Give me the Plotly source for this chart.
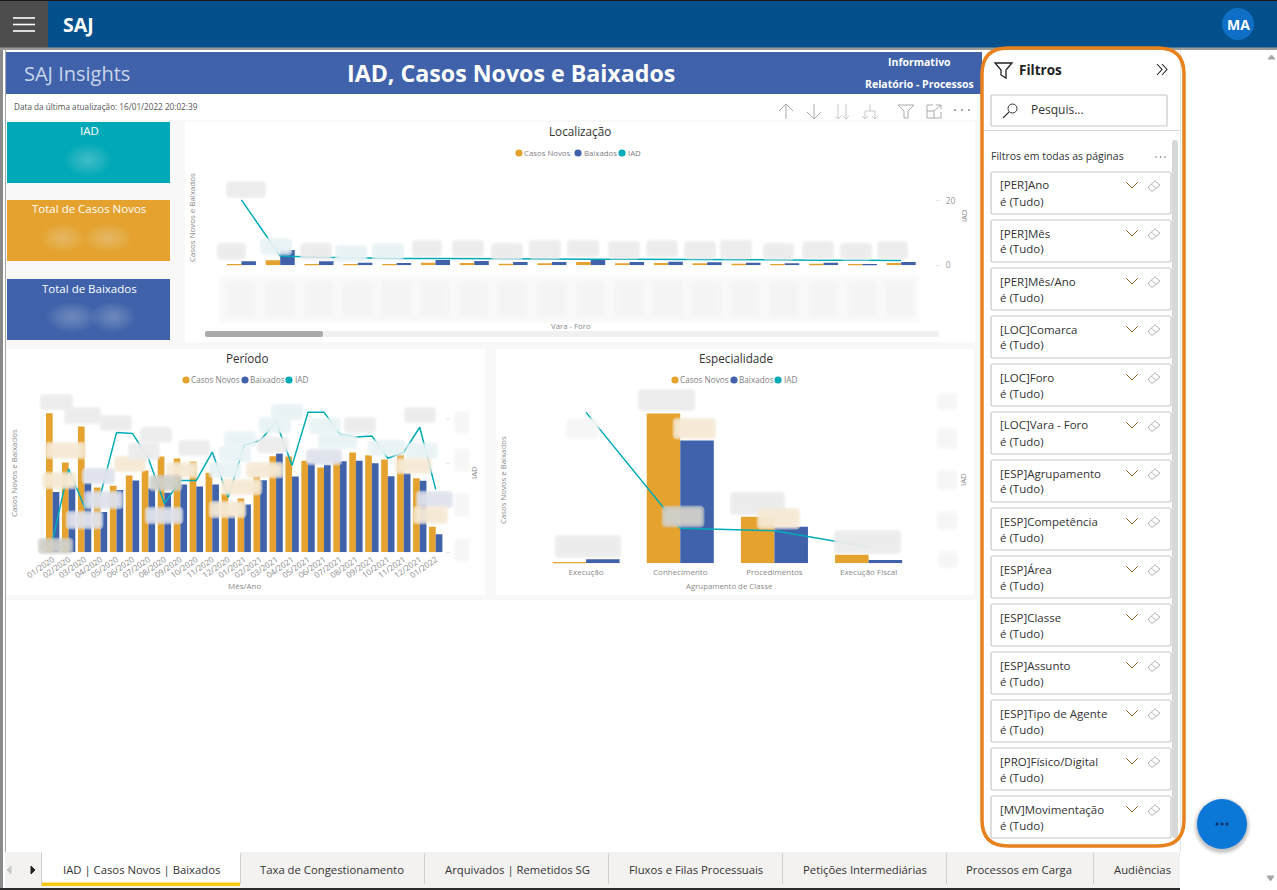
import plotly.graph_objects as go

W, H = 1277, 890
FONT = "Open Sans"
ORANGE = "#E5A22F"
BLUE = "#3F62AB"
TEAL = "#00ABB8"

# dados lidos do painel (escala dos eixos ocultos = borrada no original)
meses = ["01/2020", "02/2020", "03/2020", "04/2020", "05/2020", "06/2020", "07/2020", "08/2020", "09/2020",
         "10/2020", "11/2020", "12/2020", "01/2021", "02/2021", "03/2021", "04/2021", "05/2021", "06/2021",
         "07/2021", "08/2021", "09/2021", "10/2021", "11/2021", "12/2021", "01/2022"]
per_novos = [418, 270, 378, 195, 200, 231, 246, 288, 282, 273, 239, 177, 162, 229, 289, 288, 275, 255, 272, 300,
             292, 279, 294, 223, 77]
per_baixados = [181, 202, 209, 121, 187, 216, 192, 179, 204, 198, 204, 112, 144, 217, 297, 228, 270, 263, 274, 275,
                268, 229, 238, 215, 54]
per_iad = [14, 94, 51, 65, 135, 134, 106, 55, 81, 81, 113, 62, 121, 126, 147, 98, 158, 158, 133, 130, 131, 106,
           113, 141, 71]

classes = ["Execução", "Conhecimento", "Procedimentos", "Execução Fiscal"]
esp_novos = [4, 450, 140, 26]
esp_baixados = [12, 369, 110, 10]
esp_iad = [185, 43, 40, 20]

varas = ["Vara %02d" % i for i in range(1, 19)]
loc_novos = [4, 15, 4, 4, 4, 8, 7, 5, 6, 10, 6, 7, 6, 5, 4, 5, 4, 7]
loc_baixados = [12, 46, 12, 8, 7, 16, 13, 10, 10, 16, 10, 11, 9, 8, 6, 8, 4, 10]
loc_iad = [20.3, 2.9, 2.5, 2.2, 2.1, 2.1, 2.0, 2.0, 1.9, 1.9, 1.9, 1.8, 1.8, 1.7, 1.7, 1.6, 1.6, 1.5]

filtros = ["[PER]Ano", "[PER]Mês", "[PER]Mês/Ano", "[LOC]Comarca", "[LOC]Foro", "[LOC]Vara - Foro",
           "[ESP]Agrupamento", "[ESP]Competência", "[ESP]Área", "[ESP]Classe", "[ESP]Assunto",
           "[ESP]Tipo de Agente", "[PRO]Físico/Digital", "[MV]Movimentação"]
abas = ["IAD | Casos Novos | Baixados", "Taxa de Congestionamento", "Arquivados | Remetidos SG",
        "Fluxos e Filas Processuais", "Petições Intermediárias", "Processos em Carga", "Audiências"]
aba_centros = [141, 332, 517, 696, 865, 1019, 1142]
aba_bordas = [41, 240, 424, 608, 782, 946, 1093]


def X(p):
    return p / W


def Y(p):
    return 1 - p / H


shapes = []
notes = []


def rect(x0, y0, x1, y1, fill, line=None, lw=1, layer="below"):
    shapes.append(dict(type="rect", xref="paper", yref="paper", x0=X(x0), x1=X(x1), y0=Y(y0), y1=Y(y1),
                       fillcolor=fill, line=dict(color=line or "rgba(0,0,0,0)", width=lw if line else 0),
                       layer=layer))


def rounded(x0, y0, x1, y1, r, fill, line=None, lw=1, layer="above"):
    p = (f"M {X(x0 + r)} {Y(y0)} L {X(x1 - r)} {Y(y0)} Q {X(x1)} {Y(y0)} {X(x1)} {Y(y0 + r)} "
         f"L {X(x1)} {Y(y1 - r)} Q {X(x1)} {Y(y1)} {X(x1 - r)} {Y(y1)} L {X(x0 + r)} {Y(y1)} "
         f"Q {X(x0)} {Y(y1)} {X(x0)} {Y(y1 - r)} L {X(x0)} {Y(y0 + r)} Q {X(x0)} {Y(y0)} {X(x0 + r)} {Y(y0)} Z")
    shapes.append(dict(type="path", xref="paper", yref="paper", path=p, fillcolor=fill,
                       line=dict(color=line or "rgba(0,0,0,0)", width=lw if line else 0), layer=layer))


def circle(cx, cy, r, fill, ry=None, layer="above"):
    ry = ry or r
    shapes.append(dict(type="circle", xref="paper", yref="paper", x0=X(cx - r), x1=X(cx + r), y0=Y(cy + ry),
                       y1=Y(cy - ry), fillcolor=fill, line=dict(width=0), layer=layer))


def stroke(points, color, lw=1, close=False, fill=None):
    p = "M " + " L ".join(f"{X(a)} {Y(b)}" for a, b in points) + (" Z" if close else "")
    shapes.append(dict(type="path", xref="paper", yref="paper", path=p, line=dict(color=color, width=lw),
                       fillcolor=fill or "rgba(0,0,0,0)", layer="above"))


def text(x, y, s, size=12, color="#333333", anchor="left", bold=False, angle=0, font=FONT):
    notes.append(dict(xref="paper", yref="paper", x=X(x), y=Y(y), text=f"<b>{s}</b>" if bold else s,
                      showarrow=False, xanchor=anchor, yanchor="middle", textangle=angle,
                      font=dict(family=font, size=size, color=color), borderpad=0, borderwidth=0))


def blur(x0, y0, x1, y1, rgb, a=0.96):
    # rótulo borrado: camadas arredondadas sobrepostas para suavizar a borda
    passo = 1 - (1 - a) ** 0.25
    for d, r in ((2.5, 5), (1.0, 4), (-0.5, 3), (-2, 3)):
        rounded(x0 - d, y0 - d, x1 + d, y1 + d, r, f"rgba({rgb},{passo:.3f})")


def glow(cx, cy, rx, ry, alpha):
    for k in (1.0, 0.88, 0.76, 0.64, 0.52, 0.4, 0.28, 0.16):
        circle(cx, cy, rx * k, f"rgba(255,255,255,{alpha})", ry=ry * k)


# ---------- fundo geral ----------
rect(0, 0, W, H, "#FFFFFF")
rect(5, 94, 982, 600, "#F8F8F8")
rect(5, 94, 982, 120, "#FFFFFF")
rect(0, 600, 982, 852, "#FFFFFF")
rect(0, 0, 1277, 48, "#04508C")
rect(0, 0, 1277, 1, "#1A1A1A")
rect(0, 1, 48, 48, "#4D4D4D")
rect(0, 47.5, 1277, 50, "#9A9A9A")
rect(1180, 50, 1277, 890, "#FFFFFF")
rect(5, 52, 982, 94, BLUE)
rect(0, 50, 3, 890, "#8A8A8A")
rect(5, 50, 6, 890, "#A8A8A8")
for yy in (18, 24.5, 31):
    rect(13, yy - 0.8, 35, yy + 0.8, "#FFFFFF")
text(63, 24.5, "SAJ", 19.5, "#FFFFFF", bold=True)
circle(1238, 24, 16, "#0F6FC6", layer="below")
text(1238, 24.5, "MA", 14, "#FFFFFF", "center", bold=True)

# ---------- faixa de título ----------
text(24, 73, "SAJ Insights", 20, "#CBD5E8")
text(511, 72.5, "IAD, Casos Novos e Baixados", 23.2, "#FFFFFF", "center", bold=True)
text(920, 62, "Informativo", 10.5, "#FFFFFF", "center", bold=True)
text(920, 84, "Relatório - Processos", 10.5, "#FFFFFF", "center", bold=True)
text(14, 106, "Data da última atualização: 16/01/2022 20:02:39", 8.2, "#555555")

# ---------- barra de ícones ----------
ICO = "#ABABAB"
for cx, head in ((786, 1), (814, -1)):
    stroke([(cx, 104), (cx, 119)], ICO)
    yh = 104 if head == 1 else 119
    stroke([(cx - 7, yh + 7 * head), (cx, yh), (cx + 7, yh + 7 * head)], ICO)
for cx in (838, 846):
    stroke([(cx, 104), (cx, 119)], "#C9C9C9")
    stroke([(cx - 3, 116), (cx, 119), (cx + 3, 116)], "#C9C9C9")
stroke([(870, 104), (870, 111)], "#C9C9C9")
stroke([(865, 111), (875, 111)], "#C9C9C9")
for cx in (865, 875):
    stroke([(cx, 111), (cx, 119)], "#C9C9C9")
    stroke([(cx - 3, 116), (cx, 119), (cx + 3, 116)], "#C9C9C9")
stroke([(898, 105), (914, 105), (908, 111), (908, 118), (904, 118), (904, 111)], ICO, close=True)
stroke([(933, 105), (927, 105), (927, 118), (941, 118), (941, 112)], ICO)
stroke([(927, 111), (934, 111), (934, 118)], ICO)
stroke([(934, 111), (941, 105)], ICO)
stroke([(936, 105), (941, 105), (941, 109)], ICO)
for cx in (955, 962, 969):
    circle(cx, 110, 1, "#8A8A8A")

# ---------- cartões ----------
rect(7, 122, 170, 183, "#00A9B7")
rect(7, 200, 170, 261, ORANGE)
rect(7, 279, 170, 340, BLUE)
text(89, 131, "IAD", 11.5, "#FFFFFF", "center")
text(89, 209, "Total de Casos Novos", 11.5, "#FFFFFF", "center")
text(89, 288, "Total de Baixados", 11.5, "#FFFFFF", "center")
glow(88, 160, 22, 16, 0.035)
glow(63, 238, 22, 14, 0.035)
glow(108, 238, 24, 14, 0.035)
glow(72, 317, 25, 15, 0.035)
glow(113, 317, 22, 15, 0.035)

# ---------- painéis dos gráficos ----------
rect(185, 122, 975, 342, "#FFFFFF")
rect(7, 349, 485, 595, "#FFFFFF")
rect(496, 349, 974, 595, "#FFFFFF")


def legenda(ponto_x, texto_x, y, size):
    nomes = ["Casos Novos", "Baixados", "IAD"]
    for px, tx, nome, cor in zip(ponto_x, texto_x, nomes, (ORANGE, BLUE, TEAL)):
        circle(px, y, 3.6, cor)
        text(tx, y, nome, size, "#7F7F7F")


CINZA = "#8A8A8A"
text(580, 131, "Localização", 11.7, "#333333", "center")
legenda((519, 578, 622), (524, 583.5, 627.5), 153, 7.8)
text(192, 218, "Casos Novos e Baixados", 7.9, CINZA, "center", angle=-90)
text(964, 216, "IAD", 7.5, CINZA, "center", angle=-90)
text(571, 326, "Vara - Foro", 7.8, CINZA, "center")
rounded(205, 331, 939, 337, 2, "#F0F0F0", layer="below")
rounded(205, 331, 323, 337, 2, "#ABABAB", layer="below")

text(247, 358, "Período", 11.7, "#333333", "center")
legenda((186, 245, 289), (191, 250, 294.5), 380, 8.2)
text(14, 473, "Casos Novos e Baixados", 7.8, CINZA, "center", angle=-90)
text(474, 473, "IAD", 7.8, CINZA, "center", angle=-90)
text(244, 585, "Mês/Ano", 8, CINZA, "center")

text(736, 358, "Especialidade", 11.7, "#333333", "center")
legenda((675, 734, 778), (680, 739, 783.5), 380, 8.2)
text(503, 480, "Casos Novos e Baixados", 7.8, CINZA, "center", angle=-90)
text(963, 480, "IAD", 7.8, CINZA, "center", angle=-90)
text(729, 586, "Agrupamento de Classe", 7.8, CINZA, "center")

# rótulos borrados: (x0, y0, x1, y1, tom) em pixels da tela
G = "236,236,236"
C = "246,234,214"
T = "232,243,244"
A = "222,226,236"
D = "208,208,202"
P = "246,246,246"
rotulos_periodo = [
    (42, 396, 71, 408, G), (66, 409, 99, 422, G), (102, 417, 130, 429, G), (142, 429, 170, 441, G),
    (47, 444, 84, 457, C), (116, 458, 144, 470, C), (130, 445, 158, 458, G), (180, 442, 208, 454, G),
    (273, 406, 301, 418, T), (261, 419, 289, 431, T), (311, 420, 339, 432, T), (346, 419, 374, 431, G),
    (406, 409, 434, 421, G), (226, 433, 254, 445, T), (221, 448, 249, 460, T), (259, 439, 287, 451, G),
    (320, 435, 355, 447, T), (370, 442, 403, 454, T), (408, 445, 436, 457, T), (44, 474, 75, 487, C),
    (84, 470, 113, 482, A), (168, 464, 196, 476, C), (211, 464, 239, 476, T), (248, 464, 282, 476, C),
    (308, 451, 340, 463, A), (397, 460, 430, 472, C), (151, 477, 180, 489, D), (223, 481, 260, 493, C),
    (86, 493, 121, 507, A), (418, 493, 451, 506, A), (415, 508, 446, 522, C), (68, 513, 101, 527, A),
    (147, 509, 181, 522, A), (211, 503, 244, 516, C), (40, 540, 71, 552, D),
]
rotulos_esp = [
    (640, 391, 693, 409, G), (568, 420, 597, 437, P), (675, 420, 714, 437, C), (557, 537, 619, 556, G),
    (732, 494, 783, 513, G), (759, 510, 798, 527, C), (664, 508, 702, 525, D), (836, 532, 899, 552, G),
    (939, 395, 956, 408, P), (939, 430, 956, 447, P), (939, 472, 956, 488, P), (939, 513, 956, 528, P),
    (940, 553, 956, 566, P),
]
rotulos_loc = [
    (219, 245, 244, 258, G), (228, 183, 264, 196, G), (262, 240, 290, 253, T), (302, 245, 330, 258, G),
    (337, 247, 365, 260, T), (374, 245, 402, 258, T), (414, 242, 440, 255, G), (454, 242, 482, 255, G),
    (493, 245, 521, 258, G), (531, 242, 559, 257, G), (569, 242, 597, 255, G), (610, 243, 638, 257, G),
    (648, 242, 676, 255, G), (686, 243, 714, 257, G), (722, 242, 750, 257, G), (765, 245, 792, 258, G),
    (804, 243, 832, 257, G), (842, 245, 870, 258, G), (879, 243, 906, 257, G),
]
for r in rotulos_periodo + rotulos_esp + rotulos_loc:
    blur(*r)
for y0, y1 in ((413, 432), (450, 470), (495, 515), (540, 560)):
    blur(456, y0, 468, y1, P)
# nomes das varas borrados: nuvem de fundo e uma mancha por categoria
blur(220, 276, 918, 322, "248,248,248", 0.8)
for i in range(18):
    cx = 241 + 38.8 * i
    blur(cx - 13, 283, cx + 13, 316, "241,241,241", 0.65)

# ---------- painel de filtros ----------
rect(983, 50, 1180, 850, "#FFFFFF")
rect(1180, 50, 1181, 852, "#E3E3E3")
stroke([(995, 63), (1012, 63), (1006, 70), (1006, 78), (1001, 75), (1001, 70)], "#222222", 1.3, close=True)
text(1019, 69.5, "Filtros", 13.5, "#222222", bold=True)
stroke([(1157, 64), (1162, 69.5), (1157, 75)], "#222222", 1.1)
stroke([(1162, 64), (1167, 69.5), (1162, 75)], "#222222", 1.1)
rounded(991, 95, 1167, 126, 1, "#FFFFFF", "#C8C8C8", 1.2)
shapes.append(dict(type="circle", xref="paper", yref="paper", x0=X(1008), x1=X(1017), y0=Y(113), y1=Y(104),
                   line=dict(color="#333333", width=1), layer="above"))
stroke([(1009, 112), (1003, 118)], "#333333", 1.1)
text(1031, 110, "Pesquis...", 12, "#333333")
rect(983, 130, 1180, 131, "#D8D8D8")
rounded(1172, 140, 1178, 838, 3, "#D8D8D8", layer="below")
text(991, 156, "Filtros em todas as páginas", 10.5, "#333333")
for cx in (1156, 1160.5, 1165):
    circle(cx, 157, 0.7, "#555555")
for i, nome in enumerate(filtros):
    top = 172 + 48 * i
    rounded(991, top, 1171, top + 42, 2, "#FFFFFF", "#C8C8C8", 1.2)
    text(1000, top + 13, nome, 11.5, "#333333")
    text(1000, top + 29, "é (Tudo)", 11.5, "#333333")
    stroke([(1126, top + 10), (1132, top + 16), (1138, top + 10)], "#8A6A2A", 1)
    stroke([(1148, top + 15), (1155, top + 9), (1160, top + 13), (1153, top + 19), (1151, top + 19)], "#B5B5B5", 1,
           close=True)
    stroke([(1151, top + 12), (1156, top + 16)], "#B5B5B5", 1)

# contorno laranja do painel
rounded(982, 48, 1184, 846, 26, "rgba(0,0,0,0)", "#E7821E", 3.5)

# barra de rolagem da página
stroke([(1268, 59), (1271.5, 55), (1275, 59)], "#A6A6A6", 1, close=True, fill="#A6A6A6")
stroke([(1267, 876), (1270.5, 881), (1274, 876)], "#A6A6A6", 1, close=True, fill="#A6A6A6")

# botão flutuante
for r, a in ((29, 0.05), (27.5, 0.07), (26, 0.1)):
    circle(1222, 826, r, f"rgba(0,0,0,{a})")
circle(1222, 824, 25, "#0B78D7")
for cx in (1217, 1222, 1227):
    circle(cx, 824, 1.5, "#0A2E5C")

# ---------- abas ----------
rect(5, 852, 1180, 890, "#F3F2F1")
rect(41, 852, 240, 886, "#FFFFFF")
rect(41, 882.5, 240, 886, "#F2C811")
for b in aba_bordas[1:]:
    rect(b, 853, b + 1, 884, "#D2D0CE")
rect(41, 852, 42, 886, "#D2D0CE")
stroke([(11, 866), (7, 870), (11, 874)], "#C8C8C8", 1, close=True, fill="#C8C8C8")
stroke([(31, 866), (35, 870), (31, 874)], "#222222", 1, close=True, fill="#222222")
for nome, cx in zip(abas, aba_centros):
    text(cx, 869.5, nome, 11.3, "#333333", "center")
rect(0, 888, 1180, 890, "#2A2A2A")

# ---------- séries ----------
fig = go.Figure()


def combo(cats, novos, baixados, iad, xa, ya, ya2, w):
    fig.add_trace(go.Bar(name="Casos Novos", x=cats, y=novos, marker_color=ORANGE, width=w, offset=-w,
                         xaxis=xa, yaxis=ya))
    fig.add_trace(go.Bar(name="Baixados", x=cats, y=baixados, marker_color=BLUE, width=w, offset=0,
                         xaxis=xa, yaxis=ya))
    fig.add_trace(go.Scatter(name="IAD", x=cats, y=iad, mode="lines", line=dict(color=TEAL, width=1.5),
                             xaxis=xa, yaxis=ya2))


combo(varas, loc_novos, loc_baixados, loc_iad, "x", "y", "y4", 0.374)
combo(meses, per_novos, per_baixados, per_iad, "x2", "y2", "y5", 0.418)
combo(classes, esp_novos, esp_baixados, esp_iad, "x3", "y3", "y6", 0.356)


def eixo_x(x0, x1, n, anchor, fs=8, **kw):
    return dict(domain=[X(x0), X(x1)], anchor=anchor, range=[-0.5, n - 0.5], showgrid=False, zeroline=False,
                showline=False, ticks="", type="category", automargin=False,
                tickfont=dict(family=FONT, size=fs, color="#8A8A8A"), **kw)


def eixo_y(top, base, maximo, anchor):
    return dict(domain=[Y(base), Y(top)], range=[0, maximo], showgrid=False, zeroline=False, showline=False,
                showticklabels=False, ticks="", automargin=False, anchor=anchor)


def eixo_iad(maximo, top, base, over, pos, vals, labels=False, marcas="outside"):
    return dict(domain=[Y(base), Y(top)], range=[0, maximo], overlaying=over, side="right", anchor="free",
                position=pos, showgrid=False, zeroline=False, showline=False, ticks=marcas, ticklen=4,
                tickcolor="#E8E8E8", tickvals=vals, showticklabels=labels, automargin=False, ticklabelstandoff=4,
                tickfont=dict(family=FONT, size=8.5, color="#9A9A9A"))


fig.update_layout(
    width=W, height=H, margin=dict(l=0, r=0, t=0, b=0, pad=0), autosize=False,
    paper_bgcolor="#FFFFFF", plot_bgcolor="rgba(0,0,0,0)", showlegend=False, barmode="overlay",
    shapes=shapes, annotations=notes, font=dict(family=FONT), hovermode=False,
    xaxis=eixo_x(222, 920.6, len(varas), "y", showticklabels=False),
    yaxis=eixo_y(170, 265.3, 286, "x"),
    xaxis2=eixo_x(44.7, 443.7, len(meses), "y2", fs=8.2, tickangle=-35),
    yaxis2=eixo_y(392, 552.3, 482, "x2"),
    xaxis3=eixo_x(539, 915.7, len(classes), "y3", fs=8, ticklabelstandoff=3),
    yaxis3=eixo_y(392, 563.3, 515, "x3"),
    yaxis4=eixo_iad(29.6, 170, 265.3, "y", X(935), [0, 20], True),
    yaxis5=eixo_iad(180.75, 392, 552.3, "y2", X(445), [0, 50, 100, 150]),
    yaxis6=eixo_iad(210, 392, 563.3, "y3", X(917), [0, 50, 100, 150, 200], marcas=""),
)
fig.update_traces(marker_line_width=0, opacity=1, selector=dict(type="bar"))

fig.write_html("out.html", config=dict(displayModeBar=False),
               post_script="document.body.style.margin='0';document.documentElement.style.overflow='hidden';")
